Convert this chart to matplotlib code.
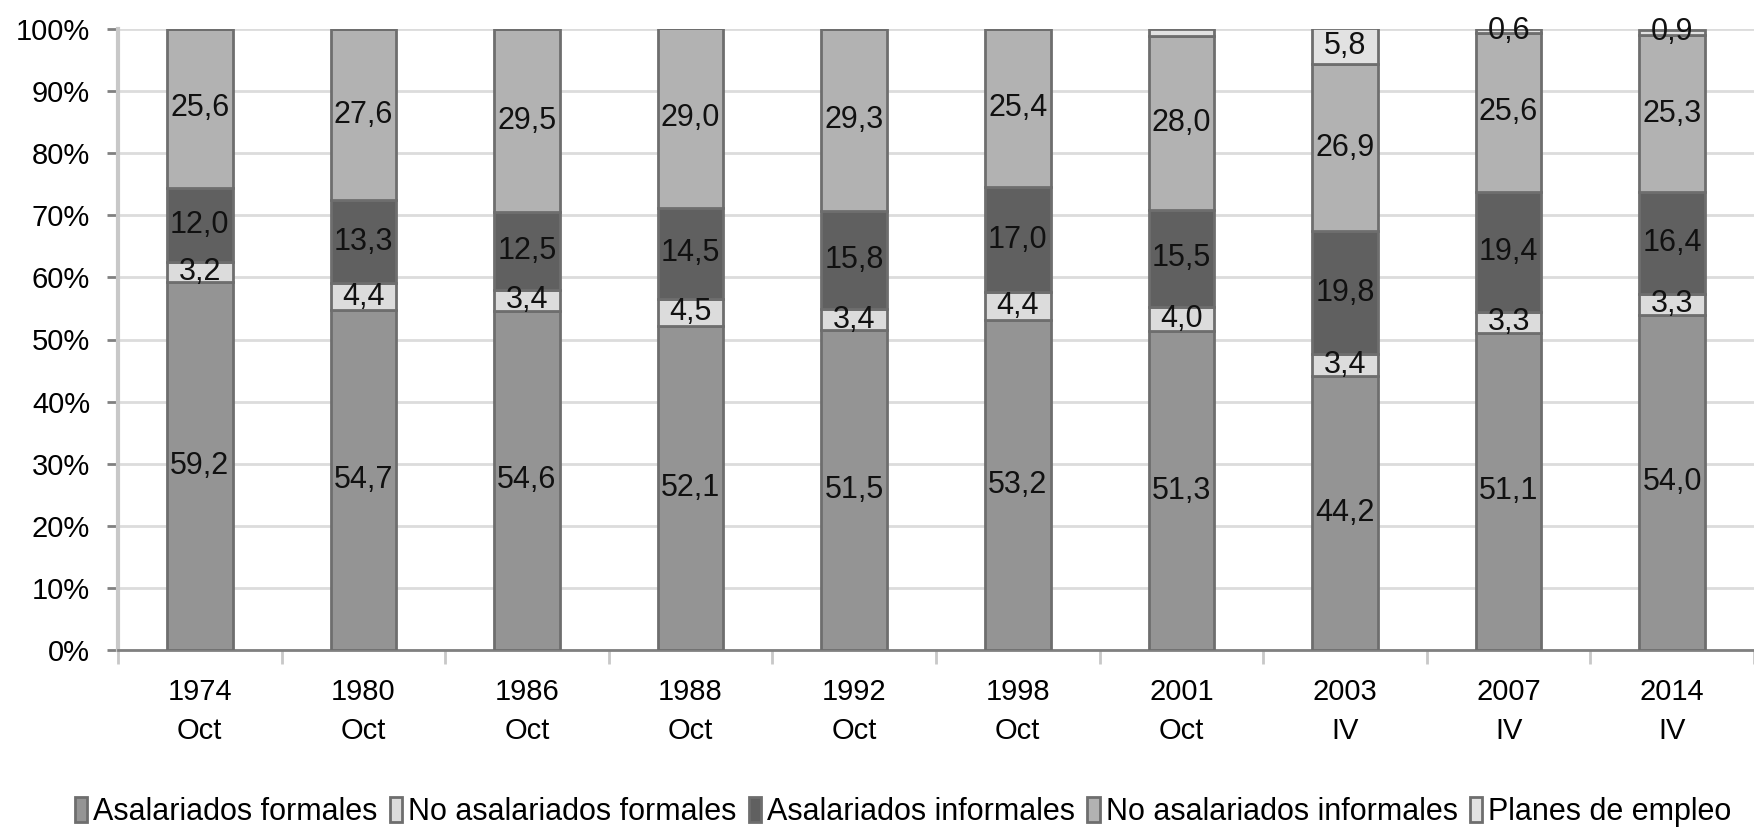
import matplotlib
matplotlib.use("Agg")
import matplotlib.pyplot as plt
import numpy as np

categories = ["1974\nOct", "1980\nOct", "1986\nOct", "1988\nOct", "1992\nOct",
              "1998\nOct", "2001\nOct", "2003\nIV", "2007\nIV", "2014\nIV"]
asal_formales = [59.2, 54.7, 54.6, 52.1, 51.5, 53.2, 51.3, 44.2, 51.1, 54.0]
no_asal_formales = [3.2, 4.4, 3.4, 4.5, 3.4, 4.4, 4.0, 3.4, 3.3, 3.3]
asal_informales = [12.0, 13.3, 12.5, 14.5, 15.8, 17.0, 15.5, 19.8, 19.4, 16.4]
no_asal_informales = [25.6, 27.6, 29.5, 29.0, 29.3, 25.4, 28.0, 26.9, 25.6, 25.3]
planes_empleo = [0.0, 0.0, 0.0, 0.0, 0.0, 0.0, 1.2, 5.8, 0.6, 0.9]
planes_show = [False, False, False, False, False, False, False, True, True, True]

series = [
    ("Asalariados formales", asal_formales, "#949494", None),
    ("No asalariados formales", no_asal_formales, "#dcdcdc", None),
    ("Asalariados informales", asal_informales, "#606060", None),
    ("No asalariados informales", no_asal_informales, "#b2b2b2", None),
    ("Planes de empleo", planes_empleo, "#e2e2e2", planes_show),
]

plt.rcParams['font.family'] = ['Liberation Sans', 'DejaVu Sans']

fig = plt.figure(figsize=(17.54, 8.32), dpi=100)
ax = fig.add_axes([118/1754, 1-650/832, 1-118/1754, (650-29)/832])

x = np.arange(len(categories))
bottom = np.zeros(len(categories))
handles = []
for name, vals, color, show in series:
    vals = np.array(vals)
    bars = ax.bar(x, vals, width=0.40, bottom=bottom, color=color,
                  edgecolor="#6e6e6e", linewidth=2.0, label=name, zorder=3)
    handles.append(bars)
    for i, v in enumerate(vals):
        if v <= 0:
            continue
        if show is not None and not show[i]:
            continue
        ax.text(x[i], bottom[i] + v / 2, f"{v:.1f}".replace(".", ","),
                ha="center", va="center", fontsize=22, color="#111111", zorder=4)
    bottom += vals

ax.set_ylim(0, 100)
ax.set_xlim(-0.5, -0.5 + (1754 - 118) / 165.5)
ax.set_yticks(np.arange(0, 101, 10))
ax.set_yticklabels([f"{v}%" for v in range(0, 101, 10)], fontsize=21)
ax.set_xticks(x)
ax.set_xticklabels(categories, fontsize=21, linespacing=1.5)
ax.tick_params(axis="x", length=0, pad=20)
ax.set_xticks(np.arange(-0.5, 10, 1), minor=True)
ax.tick_params(axis="x", which="minor", length=10, width=2, color="#c8c8c8", direction="out")
ax.tick_params(axis="y", length=8, width=2, color="#808080", pad=12)
ax.yaxis.grid(True, color="#dcdcdc", linewidth=2, zorder=0)
ax.set_axisbelow(True)
for s in ["top", "right"]:
    ax.spines[s].set_visible(False)
ax.spines["left"].set_color("#c8c8c8")
ax.spines["left"].set_linewidth(3)
ax.spines["bottom"].set_color("#808080")
ax.spines["bottom"].set_linewidth(2)

leg = fig.legend(handles=handles, loc="center", bbox_to_anchor=(0.515, 1 - 812/832),
                 ncol=5, frameon=False, fontsize=22, handlelength=0.4,
                 handleheight=0.9, handletextpad=0.2, columnspacing=0.4)

fig.savefig("out.png", dpi=100)
